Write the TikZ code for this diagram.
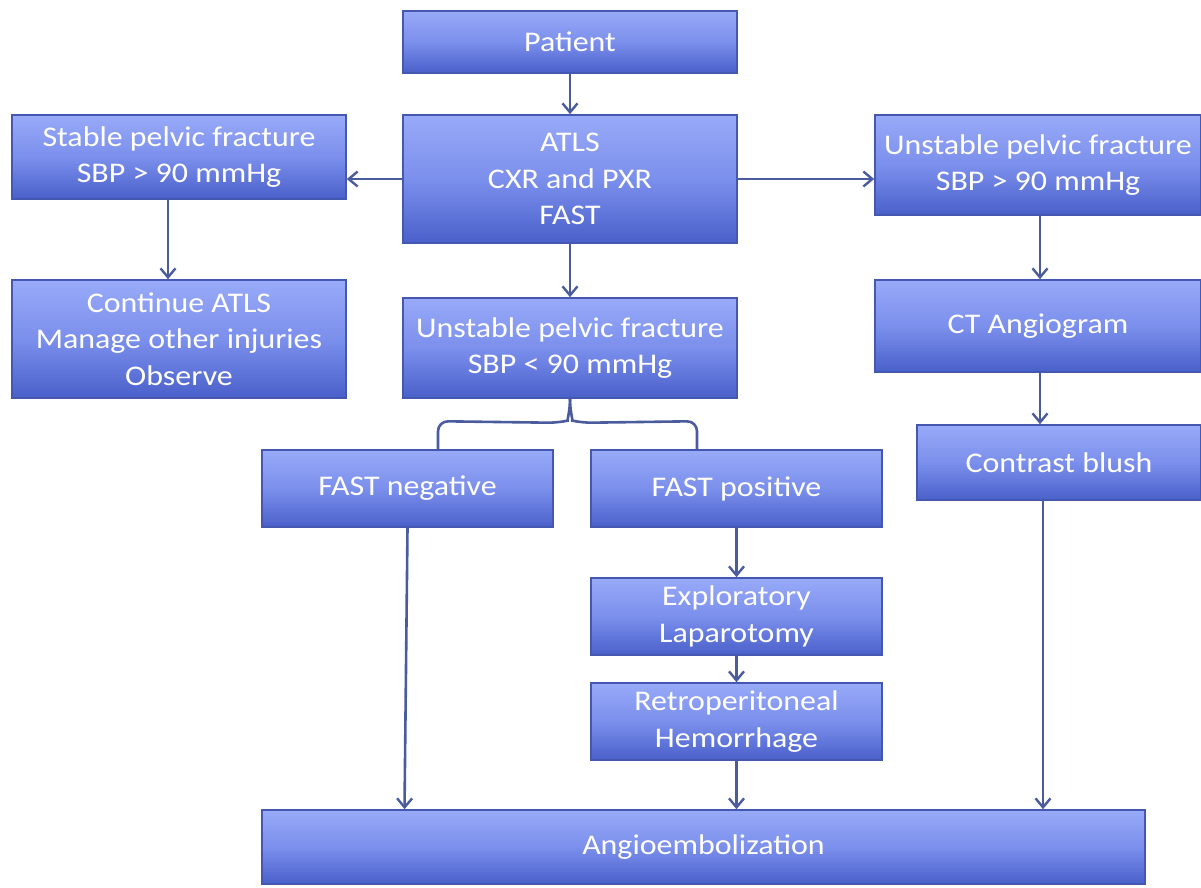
\documentclass[tikz,border=0pt]{standalone}
\usepackage{fontspec}
\setmainfont{Carlito}[FakeStretch=1.12]
\usetikzlibrary{arrows.meta}
\definecolor{boxtop}{HTML}{98AAF8}
\definecolor{boxmid}{HTML}{7B8FEC}
\definecolor{boxbot}{HTML}{4A60CA}
\definecolor{boxline}{HTML}{4458B0}
\definecolor{conn}{HTML}{4A5C9E}
\tikzset{
  box/.style={rectangle, draw=boxline, line width=1.6pt, top color=boxtop, bottom color=boxbot, middle color=boxmid,
    text=white, align=center, inner sep=0pt, font=\fontsize{28.5}{36.5}\selectfont},
  conline/.style={draw=conn, line width=2.6pt},
  arr/.style={conline, -{Straight Barb[length=9pt, width=15pt, line width=2.4pt]}},
}
\begin{document}
\begin{tikzpicture}[x=1pt, y=-1pt]
\useasboundingbox (0,0) rectangle (1201,887);
\node[box, minimum width=334pt, minimum height=62pt] (patient) at (570,42) {Patient};
\node[box, minimum width=334pt, minimum height=128pt] (atls) at (570,179) {ATLS\\CXR and PXR\\FAST};
\node[box, minimum width=334pt, minimum height=84pt] (stable) at (179,157) {Stable pelvic fracture\\SBP > 90 mmHg};
\node[box, minimum width=326pt, minimum height=100pt] (unstR) at (1038,165) {Unstable pelvic fracture\\SBP > 90 mmHg};
\node[box, minimum width=334pt, minimum height=118pt] (cont) at (179,339) {Continue ATLS\\Manage other injuries\\Observe};
\node[box, minimum width=334pt, minimum height=100pt] (unstC) at (570,348) {Unstable pelvic fracture\\SBP < 90 mmHg};
\node[box, minimum width=326pt, minimum height=92pt] (ct) at (1038,326) {CT Angiogram};
\node[box, minimum width=284pt, minimum height=75pt] (blush) at (1059,462.5) {Contrast blush};
\node[box, minimum width=291pt, minimum height=77pt] (fneg) at (407.5,488.5) {FAST negative};
\node[box, minimum width=291pt, minimum height=77pt] (fpos) at (736.5,488.5) {FAST positive};
\node[box, minimum width=291pt, minimum height=77pt] (expl) at (736.5,616.5) {Exploratory\\Laparotomy};
\node[box, minimum width=291pt, minimum height=77pt] (retro) at (736.5,721.5) {Retroperitoneal\\Hemorrhage};
\node[box, minimum width=883pt, minimum height=74pt] (angio) at (703.5,847) {Angioembolization};

\draw[arr] (patient.south) -- (atls.north);
\draw[arr] (atls.west) -- (atls.west -| stable.east);
\draw[arr] (atls.east) -- (atls.east -| unstR.west);
\draw[arr] ([xshift=-11pt]stable.south) -- ([xshift=-11pt]stable.south |- cont.north);
\draw[arr] (atls.south) -- (unstC.north);
\draw[arr] ([xshift=2pt]unstR.south) -- ([xshift=2pt]unstR.south |- ct.north);
\draw[arr] ([xshift=2pt]ct.south) -- ([xshift=2pt]ct.south |- blush.north);
\draw[arr] ([xshift=5pt]ct.south |- blush.south) -- ([xshift=5pt]ct.south |- angio.north);
\draw[arr] (fneg.south) -- ([xshift=-3pt]fneg.south |- angio.north);
\draw[arr] (fpos.south) -- (expl.north);
\draw[arr] (expl.south) -- (retro.north);
\draw[arr] (retro.south) -- (retro.south |- angio.north);

\coordinate (bl) at ([xshift=30.5pt]fneg.north);
\coordinate (br) at ([xshift=-39.5pt]fpos.north);
\draw[conline, rounded corners=10pt] (bl) -- ([yshift=28pt]bl) -- ([xshift=-12pt, yshift=-24pt]unstC.south) .. controls ([xshift=-3pt, yshift=-22pt]unstC.south) and ([yshift=-12pt]unstC.south) .. (unstC.south);
\draw[conline, rounded corners=10pt] (br) -- ([yshift=28pt]br) -- ([xshift=12pt, yshift=-24pt]unstC.south) .. controls ([xshift=3pt, yshift=-22pt]unstC.south) and ([yshift=-12pt]unstC.south) .. (unstC.south);
\end{tikzpicture}
\end{document}
